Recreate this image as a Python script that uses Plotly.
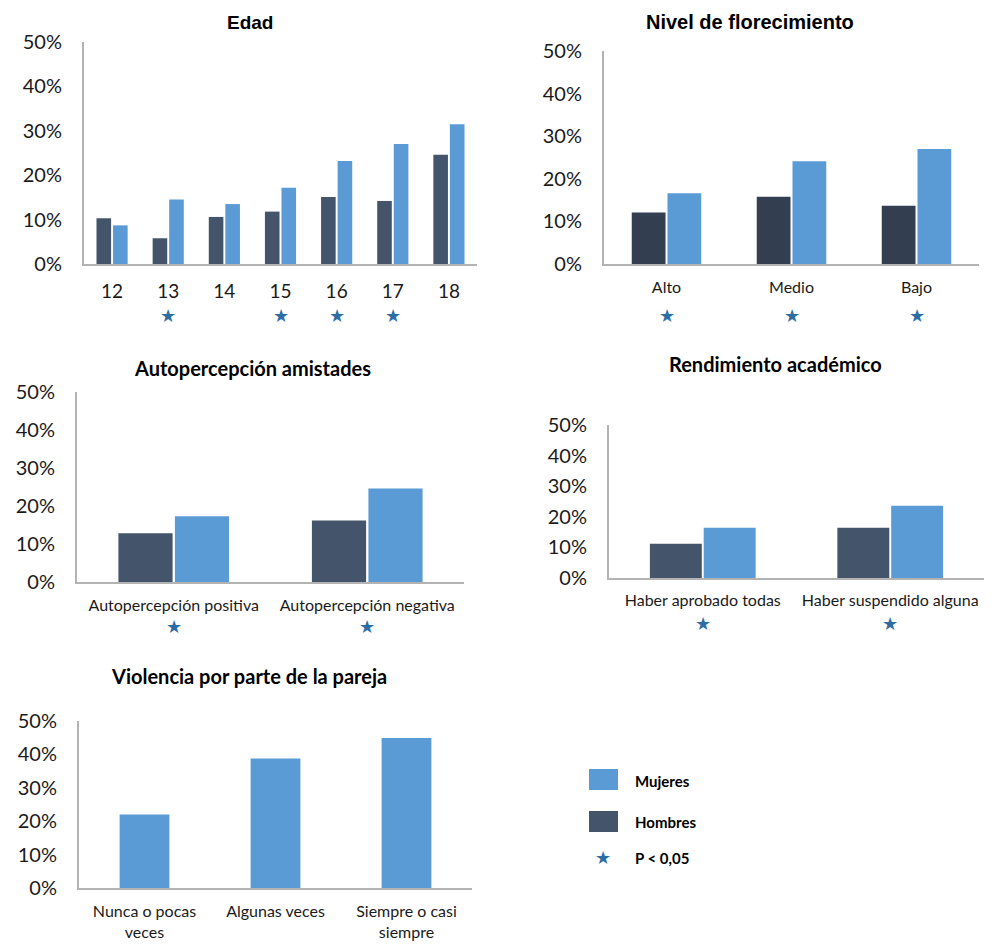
import plotly.graph_objects as go

# --- datos ---
edad_cat = ["12", "13", "14", "15", "16", "17", "18"]
edad_hombres = [0.103, 0.058, 0.106, 0.118, 0.151, 0.142, 0.246]
edad_mujeres = [0.087, 0.145, 0.135, 0.172, 0.232, 0.270, 0.315]
edad_sig = [False, True, False, True, True, True, False]

flor_cat = ["Alto", "Medio", "Bajo"]
flor_hombres = [0.121, 0.158, 0.137]
flor_mujeres = [0.166, 0.241, 0.270]
flor_sig = [True, True, True]

amis_cat = ["Autopercepción positiva", "Autopercepción negativa"]
amis_hombres = [0.128, 0.162]
amis_mujeres = [0.173, 0.246]
amis_sig = [True, True]

rend_cat = ["Haber aprobado todas", "Haber suspendido alguna"]
rend_hombres = [0.112, 0.164]
rend_mujeres = [0.164, 0.236]
rend_sig = [True, True]

viol_cat = ["Nunca o pocas<br>veces", "Algunas veces", "Siempre o casi<br>siempre"]
viol_mujeres = [0.220, 0.388, 0.449]

# --- estilo ---
AZUL = "#5b9bd5"
OSCURO = "#44546a"
OSCURO2 = "#333f50"
ESTRELLA = "#2e6ca4"
EJE = "#b3b3b3"
FUENTE = "Lato, Calibri, sans-serif"
# la página añade 8 px de margen al cuerpo: figura algo más pequeña
OFF = 8
W, H = 1000 - OFF, 951 - OFF


def px_x(a, b):
    return [(a - OFF) / W, (b - OFF) / W]


def px_y(top, bottom):
    return [1 - (bottom - OFF) / H, 1 - (top - OFF) / H]


def pxp(x, y):
    return (x - OFF) / W, 1 - (y - OFF) / H


fig = go.Figure()
anots = []


def estrellas(n, cats, sig, ystar):
    # marcas de significación bajo el eje (en fracción del dominio)
    sx = "" if n == 1 else str(n)
    for i, s in enumerate(sig):
        if s:
            anots.append(dict(text="★", x=i, y=ystar, xref="x" + sx,
                              yref="y%s domain" % sx,
                              showarrow=False, xanchor="center", yanchor="middle",
                              font=dict(family="DejaVu Sans", size=18, color=ESTRELLA)))


def pareja(n, cats, hombres, mujeres, sig, w, g, col_h, ystar):
    xa = "x" if n == 1 else "x%d" % n
    ya = "y" if n == 1 else "y%d" % n
    fig.add_trace(go.Bar(x=cats, y=hombres, marker_color=col_h, width=w,
                         offset=-w - g / 2, xaxis=xa, yaxis=ya,
                         marker_line_width=0, showlegend=False, name="Hombres"))
    fig.add_trace(go.Bar(x=cats, y=mujeres, marker_color=AZUL, width=w,
                         offset=g / 2, xaxis=xa, yaxis=ya,
                         marker_line_width=0, showlegend=False, name="Mujeres"))
    estrellas(n, cats, sig, ystar)


pareja(1, edad_cat, edad_hombres, edad_mujeres, edad_sig, 0.26, 0.035, OSCURO, -0.234)
pareja(2, flor_cat, flor_hombres, flor_mujeres, flor_sig, 0.27, 0.016, OSCURO2, -0.244)
pareja(3, amis_cat, amis_hombres, amis_mujeres, amis_sig, 0.28, 0.012, OSCURO, -0.236)
pareja(4, rend_cat, rend_hombres, rend_mujeres, rend_sig, 0.277, 0.01, OSCURO, -0.300)
fig.add_trace(go.Bar(x=viol_cat, y=viol_mujeres, marker_color=AZUL, width=0.38,
                     xaxis="x5", yaxis="y5", marker_line_width=0, showlegend=False,
                     name="Mujeres"))

dominios = {
    1: (px_x(84, 477), px_y(42, 264), 19, 9, len(edad_cat)),
    2: (px_x(604, 979), px_y(51, 264), 16, 8, len(flor_cat)),
    3: (px_x(77, 464), px_y(392, 582), 16, 8, len(amis_cat)),
    4: (px_x(609, 984), px_y(425, 578), 16, 7, len(rend_cat)),
    5: (px_x(79, 472), px_y(721, 888), 16, 8, len(viol_cat)),
}

lay = {}
for n, (dx, dy, fs, tl, ncat) in dominios.items():
    sx = "" if n == 1 else str(n)
    lay["xaxis" + sx] = dict(
        domain=dx, anchor="y" + sx, type="category", range=[-0.5, ncat - 0.5],
        showline=True, linecolor=EJE, linewidth=2, showgrid=False, zeroline=False,
        ticks="outside", ticklen=tl, tickcolor="rgba(0,0,0,0)", automargin=False,
        tickfont=dict(family=FUENTE, size=fs, color="#1a1a1a"), fixedrange=True)
    lay["yaxis" + sx] = dict(
        domain=dy, anchor="x" + sx, range=[0, 0.5], dtick=0.1, tickformat=".0%",
        showline=True, linecolor=EJE, linewidth=2, showgrid=False, zeroline=False,
        ticks="outside", ticklen=16, tickcolor="rgba(0,0,0,0)", automargin=False,
        tickfont=dict(family=FUENTE, size=20, color="#1a1a1a"), fixedrange=True)

titulos = [
    ("<b>Edad</b>", 250, 22, "Liberation Sans, Arial, sans-serif", 19),
    ("<b>Nivel de florecimiento</b>", 750, 22, "Liberation Sans, Arial, sans-serif", 20),
    ("<b>Autopercepción amistades</b>", 252, 368, FUENTE, 20),
    ("<b>Rendimiento académico</b>", 775, 364, FUENTE, 20),
    ("<b>Violencia por parte de la pareja</b>", 249, 676, FUENTE, 20),
]
for txt, x, y, fam, sz in titulos:
    px_, py_ = pxp(x, y)
    anots.append(dict(text=txt, x=px_, y=py_, xref="paper", yref="paper",
                      showarrow=False, xanchor="center", yanchor="middle",
                      font=dict(family=fam, size=sz, color="#000000")))

# leyenda manual
leyenda = [("Mujeres", 781), ("Hombres", 822), ("P < 0,05", 858)]
for txt, y in leyenda:
    px_, py_ = pxp(633, y)
    anots.append(dict(text="<b>%s</b>" % txt, x=px_, y=py_,
                      xref="paper", yref="paper", showarrow=False,
                      xanchor="left", yanchor="middle",
                      font=dict(family=FUENTE, size=15, color="#000000")))
px_, py_ = pxp(603, 857)
anots.append(dict(text="★", x=px_, y=py_, xref="paper", yref="paper",
                  showarrow=False, xanchor="center", yanchor="middle",
                  font=dict(family="DejaVu Sans", size=18, color=ESTRELLA)))

formas = []
for col, top, bot in [(AZUL, 769, 790), (OSCURO, 811, 832)]:
    x0, y1 = pxp(589, top)
    x1, y0 = pxp(618, bot)
    formas.append(dict(type="rect", xref="paper", yref="paper",
                       x0=x0, x1=x1, y0=y0, y1=y1,
                       fillcolor=col, line=dict(width=0)))

fig.update_layout(
    width=W, height=H, margin=dict(l=0, r=0, t=0, b=0),
    paper_bgcolor="white", plot_bgcolor="white",
    showlegend=False, annotations=anots, shapes=formas,
    **lay)

fig.write_html("out.html")
